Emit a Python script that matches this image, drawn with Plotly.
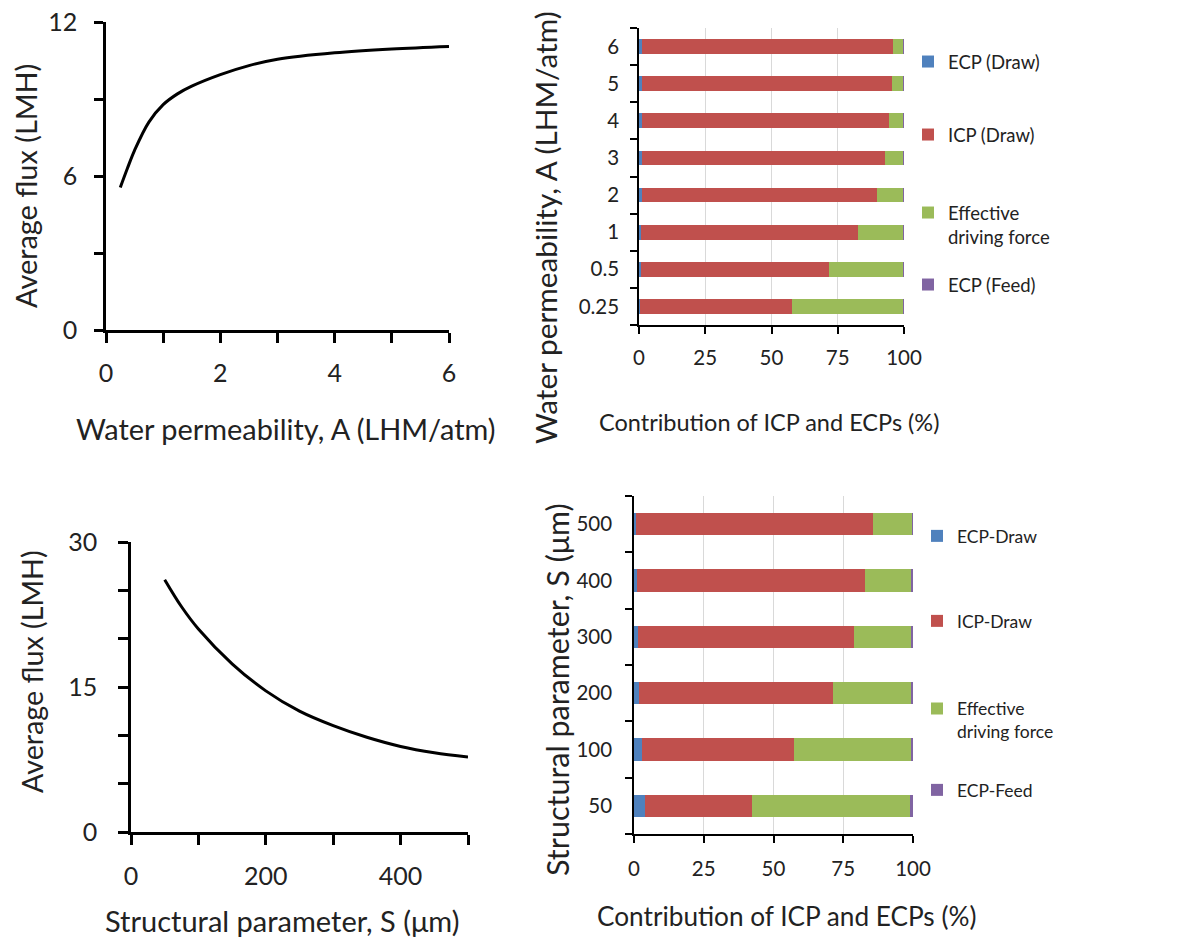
import plotly.graph_objects as go

W, H = 1185, 942
FONT = "Lato"
TXT = "#222222"

# ---------------- data ----------------
# Top-left: flux vs water permeability
perm_A = [0.25, 0.375, 0.5, 0.75, 1.0, 1.25, 1.5, 2.0, 2.5, 3.0, 4.0, 5.0, 6.0]
flux_A = [5.55, 6.3, 7.0, 8.1, 8.78, 9.2, 9.5, 9.95, 10.3, 10.55, 10.8, 10.95, 11.05]

# Bottom-left: flux vs structural parameter
struct_S = [50, 75, 100, 150, 200, 250, 300, 350, 400, 450, 500]
flux_S = [26.1, 23.3, 21.0, 17.4, 14.6, 12.5, 11.0, 9.8, 8.85, 8.2, 7.75]

# Top-right: contributions vs A (%)
cat_A = ["0.25", "0.5", "1", "2", "3", "4", "5", "6"]
ecp_draw_A = [0.4, 0.6, 0.8, 1.3, 1.3, 1.3, 1.3, 1.2]
icp_draw_A = [57.4, 71.2, 81.7, 88.6, 91.5, 93.2, 94.0, 94.5]
eff_A = [42.1, 28.1, 17.4, 10.0, 7.1, 5.4, 4.6, 4.2]
ecp_feed_A = [0.1, 0.1, 0.1, 0.1, 0.1, 0.1, 0.1, 0.1]

# Bottom-right: contributions vs S (%)
cat_S = ["50", "100", "200", "300", "400", "500"]
ecp_draw_S = [4.0, 2.7, 1.9, 1.5, 1.2, 0.8]
icp_draw_S = [38.2, 54.7, 69.6, 77.2, 81.5, 84.7]
eff_S = [56.6, 41.8, 28.0, 20.9, 16.9, 14.3]
ecp_feed_S = [1.2, 0.8, 0.5, 0.4, 0.4, 0.2]

names_A = ["ECP (Draw)", "ICP (Draw)", "Effective<br>driving force", "ECP (Feed)"]
names_S = ["ECP-Draw", "ICP-Draw", "Effective<br>driving force", "ECP-Feed"]
colors = ["#4F81BD", "#C0504D", "#9BBB59", "#8064A2"]

pct_ticks = [0, 25, 50, 75, 100]


def fx(px):
    return px / W


def fy(py):
    return 1 - py / H


fig = go.Figure()

# line charts
fig.add_trace(go.Scatter(x=perm_A, y=flux_A, mode="lines", showlegend=False,
                         line=dict(color="black", width=3, shape="spline", smoothing=1.0),
                         xaxis="x", yaxis="y"))
fig.add_trace(go.Scatter(x=struct_S, y=flux_S, mode="lines", showlegend=False,
                         line=dict(color="black", width=3, shape="spline", smoothing=1.0),
                         xaxis="x3", yaxis="y3"))

# stacked bars
series_A = [ecp_draw_A, icp_draw_A, eff_A, ecp_feed_A]
series_S = [ecp_draw_S, icp_draw_S, eff_S, ecp_feed_S]
for i, (vals, nm, col) in enumerate(zip(series_A, names_A, colors)):
    fig.add_trace(go.Bar(x=vals, y=cat_A, orientation="h", name=nm,
                         marker=dict(color=col, line=dict(width=0)),
                         xaxis="x2", yaxis="y2",
                         legend="legend" if i == 0 else f"legend{i+1}"))
for i, (vals, nm, col) in enumerate(zip(series_S, names_S, colors)):
    fig.add_trace(go.Bar(x=vals, y=cat_S, orientation="h", name=nm,
                         marker=dict(color=col, line=dict(width=0)),
                         xaxis="x4", yaxis="y4",
                         legend=f"legend{i+5}"))

tickfont_big = dict(family=FONT, size=25, color=TXT)
tickfont_small = dict(family=FONT, size=20.5, color=TXT)

common = dict(automargin=False, zeroline=False, tickcolor="black", linecolor="black",
              showline=True, ticklabeloverflow="allow")

layout = dict(
    width=W, height=H,
    margin=dict(l=0, r=0, t=0, b=0, autoexpand=False),
    paper_bgcolor="white", plot_bgcolor="white",
    barmode="stack", bargap=0.6,
    font=dict(family=FONT, color=TXT),
    # top-left
    xaxis=dict(domain=[fx(106), fx(449)], range=[0, 6], anchor="y",
               tickvals=[0, 1, 2, 3, 4, 5, 6], ticktext=["0", "", "2", "", "4", "", "6"],
               ticks="outside", ticklen=10, tickwidth=2.5,
               linewidth=2.5, showgrid=False,
               tickfont=tickfont_big, ticklabelstandoff=9, **common),
    yaxis=dict(domain=[fy(330), fy(22)], range=[0, 12], anchor="x",
               tickvals=[0, 3, 6, 9, 12], ticktext=["0", "", "6", "", "12"],
               ticks="outside", ticklen=9, tickwidth=2.5,
               linewidth=2.5, showgrid=False,
               tickfont=tickfont_big, ticklabelstandoff=12, **common),
    # top-right
    xaxis2=dict(domain=[fx(639), fx(904)], range=[0, 100], anchor="y2",
                tickvals=pct_ticks, ticks="outside", ticklen=7, tickwidth=1.5,
                linewidth=1.5, showgrid=True, gridcolor="#D9D9D9", gridwidth=1,
                tickfont=tickfont_small, ticklabelstandoff=7, **common),
    yaxis2=dict(domain=[fy(325), fy(28)], type="category", categoryorder="array",
                categoryarray=cat_A, range=[-0.5, 7.5], anchor="x2",
                ticks="outside", tickson="boundaries", ticklen=7, tickwidth=1.5,
                linewidth=1.5, showgrid=False,
                tickfont=tickfont_small, ticklabelstandoff=14, **common),
    # bottom-left
    xaxis3=dict(domain=[fx(131), fx(468)], range=[0, 500], anchor="y3",
                tickvals=[0, 100, 200, 300, 400, 500], ticktext=["0", "", "200", "", "400", ""],
                ticks="outside", ticklen=10, tickwidth=2.5,
                linewidth=2.5, showgrid=False,
                tickfont=tickfont_big, ticklabelstandoff=10, **common),
    yaxis3=dict(domain=[fy(832), fy(542)], range=[0, 30], anchor="x3",
                tickvals=[0, 5, 10, 15, 20, 25, 30], ticktext=["0", "", "", "15", "", "", "30"],
                ticks="outside", ticklen=10, tickwidth=2.5,
                linewidth=2.5, showgrid=False,
                tickfont=tickfont_big, ticklabelstandoff=16, **common),
    # bottom-right
    xaxis4=dict(domain=[fx(634), fx(913)], range=[0, 100], anchor="y4",
                tickvals=pct_ticks, ticks="outside", ticklen=7, tickwidth=1.5,
                linewidth=1.5, showgrid=True, gridcolor="#D9D9D9", gridwidth=1,
                tickfont=tickfont_small, ticklabelstandoff=9, **common),
    yaxis4=dict(domain=[fy(834), fy(496)], type="category", categoryorder="array",
                categoryarray=cat_S, range=[-0.5, 5.5], anchor="x4",
                ticks="outside", tickson="boundaries", ticklen=7, tickwidth=1.5,
                linewidth=1.5, showgrid=False,
                tickfont=tickfont_small, ticklabelstandoff=16, **common),
)

# legends: one per entry so the spacing matches the original
leg_A_y = [62, 135, 225, 285]
leg_S_y = [536, 621, 720, 790]
for i in range(4):
    key = "legend" if i == 0 else f"legend{i+1}"
    layout[key] = dict(x=fx(908), y=fy(leg_A_y[i]), xanchor="left", yanchor="middle",
                       bgcolor="rgba(0,0,0,0)", font=dict(family=FONT, size=18.5, color=TXT),
                       valign="top", itemwidth=30, borderwidth=0)
for i in range(4):
    layout[f"legend{i+5}"] = dict(x=fx(917), y=fy(leg_S_y[i]), xanchor="left", yanchor="middle",
                                  bgcolor="rgba(0,0,0,0)", font=dict(family=FONT, size=17.5, color=TXT),
                                  valign="top", itemwidth=30, borderwidth=0)

fig.update_layout(**layout)

# axis titles (placed as annotations to match the original positions)
titles = [
    ("Water permeability, A (LHM/atm)", 285, 428, 0, 28.9),
    ("Average flux (LMH)", 26, 186, -90, 28.9),
    ("Contribution of ICP and ECPs (%)", 769, 422, 0, 23.5),
    ("Water permeability, A (LHM/atm)", 546, 228, -90, 29.8),
    ("Structural parameter, S (μm)", 282, 920, 0, 29),
    ("Average flux (LMH)", 32, 672, -90, 28.7),
    ("Contribution of ICP and ECPs (%)", 786, 916, 0, 26.2),
    ("Structural parameter, S (μm)", 557, 690, -90, 30.5),
]
for text, x, y, ang, sz in titles:
    fig.add_annotation(text=text, x=fx(x), y=fy(y), xref="paper", yref="paper",
                       showarrow=False, textangle=ang, xanchor="center", yanchor="middle",
                       font=dict(family=FONT, size=sz, color=TXT))

# remove the default page margin so the figure fills the window exactly
fig.write_html("out.html", config={"displayModeBar": False},
               post_script="document.body.style.margin='0px';")
